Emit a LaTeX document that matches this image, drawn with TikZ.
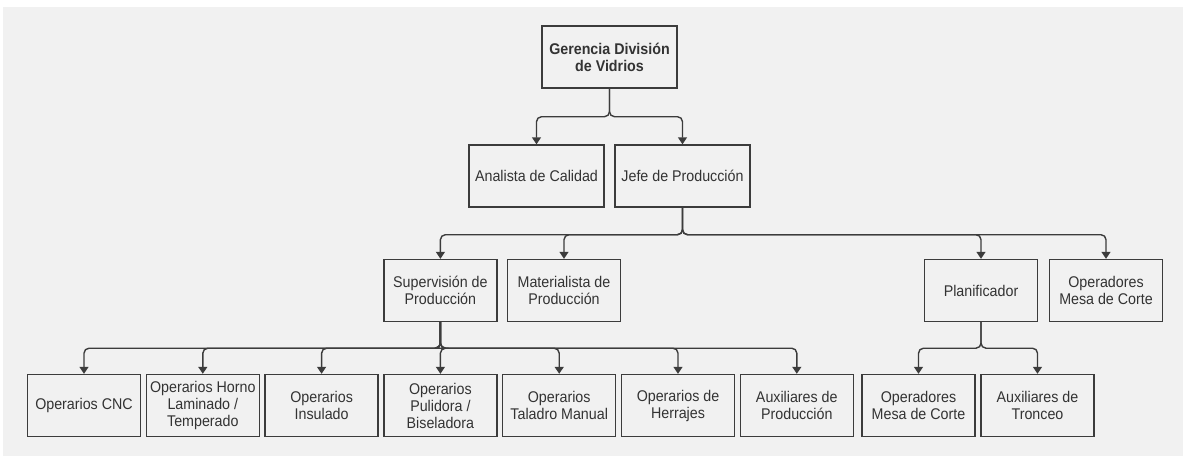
\documentclass[tikz,border=0pt]{standalone}
\usepackage{fontspec}
\setmainfont{Liberation Sans}[FakeStretch=0.92]
\usetikzlibrary{arrows.meta,positioning}
\definecolor{bg}{HTML}{F1F1F1}
\definecolor{ink}{HTML}{333333}
\definecolor{edge}{HTML}{3C3C3C}

\begin{document}
\begin{tikzpicture}[x=1pt,y=-1pt,text=ink,box/.style={draw=edge,line width=1.4pt,fill=bg,minimum width=113pt,minimum height=62pt,align=center,inner sep=2pt,font=\fontsize{15.5}{17}\selectfont},wide/.style={box,minimum width=135pt},link/.style={draw=edge,line width=1.4pt,rounded corners=5pt,-{Triangle[length=7pt,width=9pt]}}]
 \fill[white] (0,0) rectangle (1183,456);
 \fill[bg] (3,7) rectangle (1183,456);
 \node[wide] (ger) at (609.5,57) {\textbf{Gerencia División}\\\textbf{de Vidrios}};
 \node[wide] (ana) at (536.5,176) {Analista de Calidad};
 \node[wide] (jefe) at (682.5,176) {Jefe de Producción};
 \node[box] (sup) at (440.4,290.5) {Supervisión de\\Producción};
 \node[box] (mat) at (564,290.5) {Materialista de\\Producción};
 \node[box] (plan) at (981,290.5) {Planificador};
 \node[box] (mesa) at (1106,290.5) {Operadores\\Mesa de Corte};
 \node[box] (cnc) at (84,405.5) {Operarios CNC};
 \node[box,right=4.4pt of cnc] (horno) {Operarios Horno\\Laminado /\\Temperado};
 \node[box,right=4.4pt of horno] (insul) {Operarios\\Insulado};
 \node[box,right=4.4pt of insul] (pulid) {Operarios\\Pulidora /\\Biseladora};
 \node[box,right=4.4pt of pulid] (talad) {Operarios\\Taladro Manual};
 \node[box,right=4.4pt of talad] (herraj) {Operarios de\\Herrajes};
 \node[box,right=4.4pt of herraj] (auxprod) {Auxiliares de\\Producción};
 \node[box] (mesab) at (918.5,405.5) {Operadores\\Mesa de Corte};
 \node[box,right=4.6pt of mesab] (tronc) {Auxiliares de\\Tronceo};
 % tree links
 \foreach \n in {ana,jefe} \draw[link] (ger.south) -- ++(0,28) -| (\n.north);
 \foreach \n in {sup,mat,plan,mesa} \draw[link] (jefe.south) -- ++(0,27) -| (\n.north);
 \foreach \n in {cnc,horno,insul,pulid,talad,herraj,auxprod} \draw[link] (sup.south) -- ++(0,26) -| (\n.north);
 \foreach \n in {mesab,tronc} \draw[link] (plan.south) -- ++(0,26) -| (\n.north);
\end{tikzpicture}
\end{document}
